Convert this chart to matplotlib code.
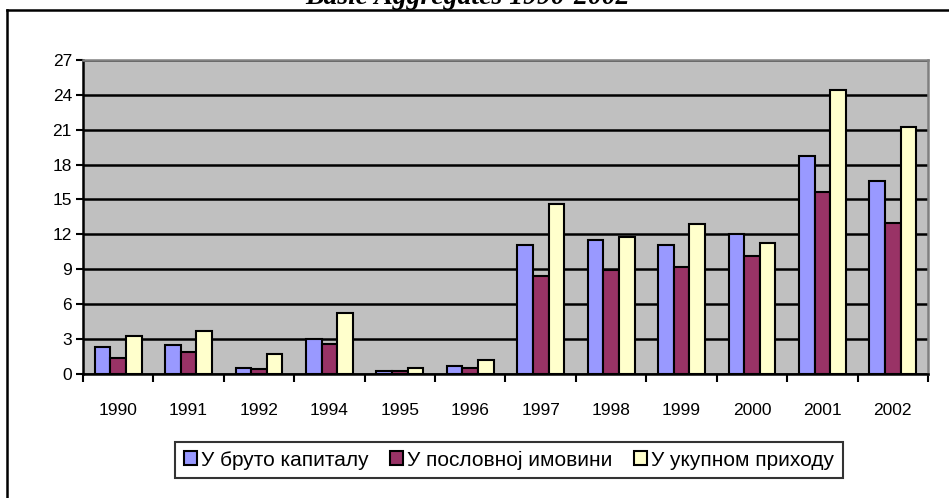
import matplotlib
matplotlib.use("Agg")
import matplotlib.pyplot as plt
import numpy as np
from matplotlib.lines import Line2D

years = ["1990", "1991", "1992", "1994", "1995", "1996", "1997", "1998", "1999", "2000", "2001", "2002"]
gross_capital = [2.25, 2.45, 0.45, 2.95, 0.2, 0.65, 11.05, 11.5, 11.05, 12.0, 18.7, 16.6]
business_assets = [1.35, 1.85, 0.42, 2.55, 0.18, 0.5, 8.4, 8.9, 9.15, 10.15, 15.6, 12.95]
total_income = [3.25, 3.65, 1.65, 5.2, 0.45, 1.15, 14.6, 11.75, 12.85, 11.25, 24.45, 21.2]
series_names = ["У бруто капиталу", "У пословној имовини", "У укупном приходу"]
colors = ["#9999FF", "#993366", "#FFFFCC"]
yticks = [0, 3, 6, 9, 12, 15, 18, 21, 24, 27]

plt.rcParams['font.family'] = ['Liberation Sans', 'DejaVu Sans']

fig = plt.figure(figsize=(9.49, 4.98), dpi=100)
W, H = 949, 498

# outer frame (top & left visible)
fig.add_artist(Line2D([7 / W, 7 / W], [0, 1 - 10 / H], transform=fig.transFigure, color="black", lw=1.8))
fig.add_artist(Line2D([7 / W, 1], [1 - 10 / H, 1 - 10 / H], transform=fig.transFigure, color="black", lw=1.8))

fig.text(468 / W, 1 - 4 / H, "Basic Aggregates 1990-2002", ha="center", va="baseline",
         family="Liberation Serif", fontsize=20, fontweight="bold", fontstyle="italic")

ax = fig.add_axes([83 / W, 1 - 373.5 / H, (928 - 83) / W, (373.5 - 60) / H])
ax.set_facecolor("#C0C0C0")

x = np.arange(len(years))
bw = 0.222
data = [gross_capital, business_assets, total_income]
for i, (vals, c, name) in enumerate(zip(data, colors, series_names)):
    ax.bar(x + (i - 1) * bw, vals, width=bw, color=c, edgecolor="black", linewidth=1.5, label=name, zorder=3)

ax.set_xlim(-0.5, len(years) - 0.5)
ax.set_ylim(0, 27)
ax.set_yticks(yticks)
ax.set_yticklabels([str(v) for v in yticks], fontsize=12.5)
ax.yaxis.grid(True, color="black", linewidth=1.8, zorder=1)
ax.set_axisbelow(True)

ax.set_xticks(x)
ax.set_xticklabels(years, fontsize=12.5)
ax.set_xticks(np.arange(-0.5, len(years)), minor=True)
ax.tick_params(axis="x", which="major", length=0, pad=21)
ax.tick_params(axis="x", which="minor", length=6, width=1.5, direction="out")
ax.tick_params(axis="y", length=5, width=1.5, direction="out", pad=3)

for s in ["left", "bottom"]:
    ax.spines[s].set_color("black")
    ax.spines[s].set_linewidth(1.8)
for s in ["top", "right"]:
    ax.spines[s].set_color("#808080")
    ax.spines[s].set_linewidth(1.8)

leg = fig.legend(loc="center", bbox_to_anchor=(509 / W, 1 - 460 / H), ncol=3, fontsize=15,
                 frameon=True, fancybox=False, edgecolor="black", handlelength=0.65, handleheight=0.65,
                 handletextpad=0.2, columnspacing=1.0, borderpad=0.4, borderaxespad=0)
leg.get_frame().set_linewidth(1.5)

fig.savefig("out.png", dpi=100)
